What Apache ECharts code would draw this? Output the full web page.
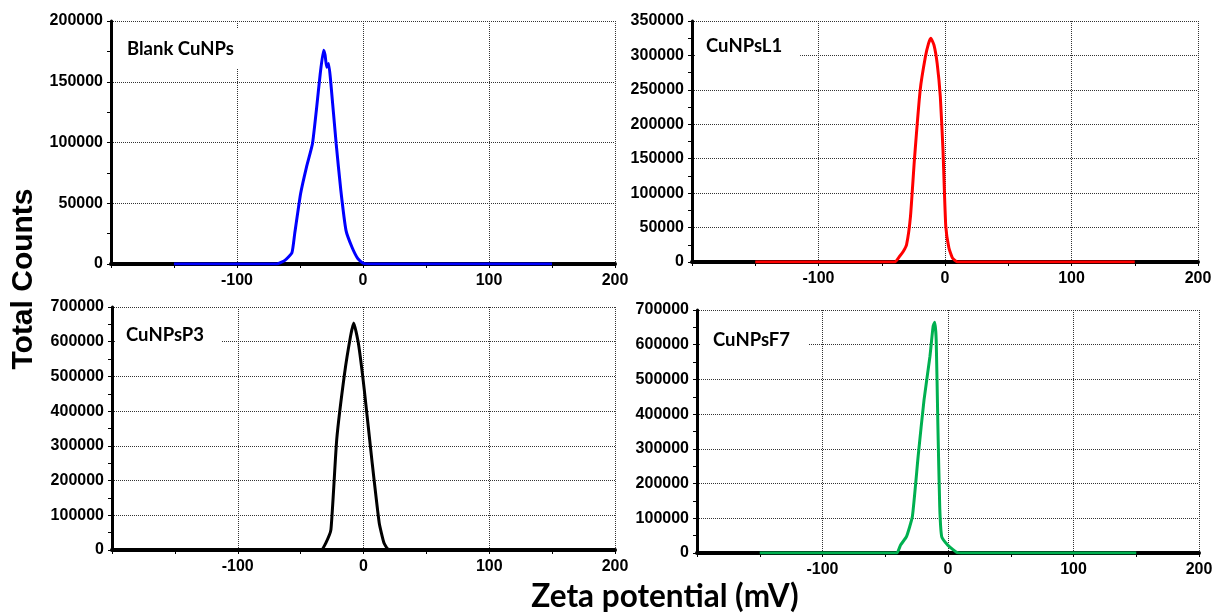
<!DOCTYPE html>
<html>
<head>
<meta charset="utf-8">
<script src="https://cdn.jsdelivr.net/npm/echarts@6/dist/echarts.min.js"></script>
<style>
  html, body { margin: 0; padding: 0; background: #fff; }
  #chart { width: 1216px; height: 616px; }
</style>
</head>
<body>
<div id="chart"></div>
<script>
// Zeta potential distributions (mV vs total counts) for four samples
const sampleNames = ['Blank CuNPs', 'CuNPsL1', 'CuNPsP3', 'CuNPsF7'];
const sampleColors = ['#0000ff', '#ff0000', '#000000', '#00b050'];

const potentialBlank = [-150, -68.3, -62, -56.4, -54.2, -49.5, -44.8, -40.1, -37, -33.9, -31.3, -30.1, -28.8, -27.3, -25.7, -21.3, -17.6, -13.5, -8.8, -4.1, 0, 6.9, 150];
const countsBlank    = [0, 0, 3000, 9300, 25000, 58000, 80000, 99000, 126700, 157000, 176000, 172000, 162000, 165000, 151000, 99000, 60700, 27700, 14000, 4400, 800, 0, 0];

const potentialL1 = [-150, -39.8, -36, -32.9, -30.4, -27.3, -24.2, -19.6, -15.5, -13, -11.2, -8.7, -6.2, -3.7, -1.6, 0.6, 3.1, 5.9, 10, 150];
const countsL1    = [0, 0, 8000, 15500, 25000, 66000, 148000, 250000, 298000, 317500, 325000, 315000, 288500, 240000, 163000, 52000, 20300, 5800, 0, 0];

const potentialP3 = [-150, -33.8, -30, -25.9, -21.3, -15, -10.3, -7.8, -4.1, 0.6, 6.9, 12.5, 16.3, 19.4, 25.6, 150];
const countsP3    = [0, 0, 20000, 58600, 318000, 510000, 616000, 654000, 596000, 462000, 251000, 78000, 20000, 3000, 0, 0];

const potentialF7 = [-150, -40.9, -37.8, -33.1, -28.4, -23.8, -19.1, -14.4, -11.9, -10.6, -9.4, -8.1, -6.6, -5, -0.3, 3.75, 7.5, 10.6, 150];
const countsF7    = [0, 0, 23000, 47000, 105000, 278000, 441000, 566000, 652000, 665000, 614000, 374000, 134000, 47000, 23000, 10600, 1000, 0, 0];

const potentials = [potentialBlank, potentialL1, potentialP3, potentialF7];
const counts = [countsBlank, countsL1, countsP3, countsF7];

// y-axis ranges per panel
const yMax = [200000, 350000, 700000, 700000];
const yStep = [50000, 50000, 100000, 100000];

// x-axis range shared by all panels
const xMin = -200, xMax = 200, xStep = 100;

// panel boxes (px); textLeft/labelTop place the sample name inside each panel
const panels = [
  { left: 111, top: 21, width: 504, height: 243, textLeft: 127, labelTop: 29 },
  { left: 692, top: 21, width: 506, height: 241, textLeft: 706, labelTop: 26 },
  { left: 112, top: 307, width: 503, height: 243, textLeft: 126, labelTop: 315 },
  { left: 697, top: 310, width: 502, height: 243, textLeft: 713, labelTop: 320 }
];

const tickFont = { fontFamily: "'Liberation Sans', Arial, sans-serif", fontWeight: 'bold', fontSize: 16, color: '#000' };
const gridLine = { show: true, lineStyle: { color: '#333', type: 'dotted', width: 1 } };

const chart = echarts.init(document.getElementById('chart'), null, { renderer: 'canvas' });

const grids = [], xAxes = [], yAxes = [], series = [], titles = [];
panels.forEach((p, i) => {
  grids.push({ left: p.left, top: p.top, width: p.width, height: p.height, containLabel: false });
  xAxes.push({
    type: 'value', gridIndex: i, min: xMin, max: xMax, interval: xStep,
    axisLine: { show: true, onZero: false, lineStyle: { color: '#000', width: 4 } },
    axisTick: { show: true, length: 4, lineStyle: { color: '#000', width: 1 } },
    minorTick: { show: true, splitNumber: 2, length: 4, lineStyle: { color: '#000', width: 1 } },
    axisLabel: Object.assign({ margin: 9, formatter: v => (v === xMin ? '' : String(v)) }, tickFont),
    splitLine: gridLine
  });
  yAxes.push({
    type: 'value', gridIndex: i, min: 0, max: yMax[i], interval: yStep[i],
    axisLine: { show: true, onZero: false, lineStyle: { color: '#000', width: 3 } },
    axisTick: { show: true, length: 4, lineStyle: { color: '#000', width: 1 } },
    minorTick: { show: true, splitNumber: 2, length: 4, lineStyle: { color: '#000', width: 1 } },
    axisLabel: Object.assign({ margin: 8, formatter: v => String(v) }, tickFont),
    splitLine: gridLine
  });
  series.push({
    type: 'line', name: sampleNames[i], xAxisIndex: i, yAxisIndex: i,
    data: potentials[i].map((x, k) => [x, counts[i][k]]),
    showSymbol: false, smooth: 0.15,
    lineStyle: { color: sampleColors[i], width: 3 },
    itemStyle: { color: sampleColors[i] },
    z: 3
  });
  // white box behind the sample name, starting just right of the y axis line
  const boxLeft = p.left + 3;
  titles.push({
    text: sampleNames[i], left: boxLeft, top: p.labelTop,
    padding: [10, 18, 10, p.textLeft - boxLeft], backgroundColor: '#fff',
    textStyle: { fontFamily: 'Lato, sans-serif', fontWeight: 'bold', fontSize: 18.5, color: '#000', lineHeight: 20 }
  });
});

chart.setOption({
  backgroundColor: '#fff',
  animation: false,
  title: titles,
  grid: grids,
  xAxis: xAxes,
  yAxis: yAxes,
  series: series,
  graphic: [
    {
      type: 'text', x: 24, y: 279, rotation: Math.PI / 2,
      style: { text: 'Total Counts', font: 'bold 30px "Liberation Sans", Arial, sans-serif', fill: '#000', align: 'center', verticalAlign: 'middle' }
    },
    {
      type: 'text', x: 665, y: 597,
      style: { text: 'Zeta potential (mV)', font: 'bold 31.5px Lato, sans-serif', fill: '#000', align: 'center', verticalAlign: 'middle' }
    }
  ]
});
</script>
</body>
</html>
